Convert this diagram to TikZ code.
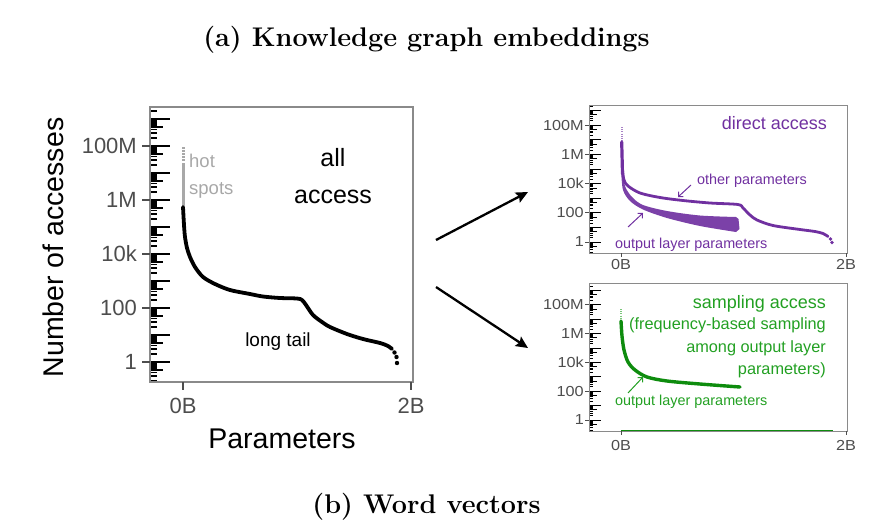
\documentclass[tikz,border=0pt]{standalone}
\usepackage{fontspec}
\newfontfamily\arial{Liberation Sans}
\usetikzlibrary{arrows.meta}
\definecolor{purp}{HTML}{7030A0}
\definecolor{grn}{HTML}{22A022}
\definecolor{grnd}{HTML}{0E8C0E}
\definecolor{tickgray}{HTML}{4D4D4D}
\definecolor{hotgray}{HTML}{A8A8A8}
\definecolor{boxgray}{HTML}{8A8A8A}
\tikzset{
  ttl/.style={font=\bfseries\fontsize{27}{31}\selectfont, inner sep=0pt},
  biglab/.style={font=\arial\fontsize{28.5}{32}\selectfont, inner sep=0pt},
  tlab/.style={font=\arial\fontsize{22}{24}\selectfont, text=tickgray, inner sep=0pt},
  slab/.style={font=\arial\fontsize{14.5}{16}\selectfont, text=tickgray, inner sep=0pt, xscale=1.12},
  ann/.style={font=\arial\fontsize{25}{28}\selectfont, inner sep=0pt},
  hotlab/.style={font=\arial\fontsize{18.5}{20}\selectfont, text=hotgray, inner sep=0pt},
  taillab/.style={font=\arial\fontsize{19}{21}\selectfont, inner sep=0pt},
  headlab/.style={font=\arial\fontsize{18}{20}\selectfont, inner sep=0pt},
  smalllab/.style={font=\arial\fontsize{14.4}{16}\selectfont, inner sep=0pt},
  noteline/.style={font=\arial\fontsize{16.3}{18}\selectfont, inner sep=0pt, text=grn},
  panel/.style={draw=boxgray, line width=1.1pt},
  rug/.style={draw=black, line width=1.4pt},
  axtick/.style={draw=tickgray, line width=1.1pt},
  bigarrow/.style={line width=2.3pt, -{Stealth[length=12pt,width=11pt,inset=2pt]}},
  thinarrow/.style={line width=1pt, -{Straight Barb[length=3.5pt,width=7pt]}},
  curve/.style={line cap=round, line join=round},
}
\begin{document}
\begin{tikzpicture}[x=1pt,y=-1pt]
\useasboundingbox (0,0) rectangle (880,528);

% titles
\node[ttl, anchor=base] (ta) at (426.5,46.5) {(a) Knowledge graph embeddings};
\node[ttl, anchor=base] (tb) at (426.5,513) {(b) Word vectors};

% ---------------- left plot ----------------
\begin{scope}
\clip (150,107) rectangle (413,382);
\foreach \k in {-1,...,9}{
  \foreach \m in {1,...,9}{
    \pgfmathsetmacro\yy{362-27*(\k+log10(\m))}
    \pgfmathsetmacro\rl{\m==1 ? 20 : (\m==5 ? 13 : 7)}
    \draw[rug] (150,\yy) -- ++(\rl,0);
  }}
\end{scope}
\draw[panel] (150,107) rectangle (413,382);
\foreach \v/\t in {8/100M,6/1M,4/10k,2/100,0/1}{
  \pgfmathsetmacro\yy{362-27*\v}
  \draw[axtick] (142,\yy) -- (150,\yy);
  \node[tlab, anchor=east] (L\v) at (137,\yy) {\t};
}
\draw[axtick] (183,382) -- (183,390);
\draw[axtick] (411,382) -- (411,390);
\node[tlab, anchor=north] (lx0) at (183,398) {0B};
\node[tlab, anchor=north] (lx2) at (411,398) {2B};
\node[biglab, anchor=base] (xlab) at (282,448) {Parameters};
\node[biglab, anchor=base, rotate=90] (ylab) at (63,247.5) {Number of accesses};

% hot spots
\draw[hotgray, line width=3pt, dash pattern=on 1.5pt off 1.5pt] (183,147) -- (183,162);
\draw[hotgray, line width=3pt] (183,163) -- (183,208);
% main curve
\draw[curve, line width=3.8pt] plot[smooth, tension=0.5] coordinates {
 (183,207) (184,225) (185,237) (187,248) (190,257) (195,267) (203,277)
 (215,284) (230,290) (250,294) (263,296.5) (280,298) (297,298.5) (302,300)
 (306,305) (313,315) (322,322) (330,327) (347,334) (363,339) (380,343)
 (388,346) (392,349)};
\fill (394.5,352.5) circle (2.2pt);
\fill (396.5,357) circle (2.2pt);
\fill (397,363) circle (2.2pt);

\node[hotlab, anchor=base west] (hot) at (189,167) {hot};
\node[hotlab, anchor=base west] (spots) at (189,194) {spots};
\node[ann, anchor=base] (all) at (333,166) {all};
\node[ann, anchor=base] (acc) at (333,203) {access};
\node[taillab, anchor=base] (tail) at (278,346) {long tail};

% big arrows
\coordinate (a1s) at (436,240);
\coordinate (a1e) at (528,192);
\coordinate (a2s) at (436,287);
\coordinate (a2e) at (528,348);
\draw[bigarrow] (a1s) -- (a1e);
\draw[bigarrow] (a2s) -- (a2e);

% ---------------- top right plot ----------------
\begin{scope}
\clip (589,105) rectangle (847,253);
\foreach \k in {-1,...,9}{
  \foreach \m in {1,...,9}{
    \pgfmathsetmacro\yy{242-14.6*(\k+log10(\m))}
    \pgfmathsetmacro\rl{\m==1 ? 12 : (\m==5 ? 8 : 4)}
    \draw[rug, line width=1pt] (589,\yy) -- ++(\rl,0);
  }}
\end{scope}
\draw[panel, line width=0.9pt] (589,105) rectangle (847,253);
\foreach \v/\t in {8/100M,6/1M,4/10k,2/100,0/1}{
  \pgfmathsetmacro\yy{242-14.6*\v}
  \draw[axtick, line width=0.9pt] (585,\yy) -- (589,\yy);
  \node[slab, anchor=east] (R\v) at (584,\yy) {\t};
}
\draw[axtick, line width=0.9pt] (621,253) -- (621,257);
\draw[axtick, line width=0.9pt] (846,253) -- (846,257);
\node[slab, anchor=north] (rx0) at (621,259.5) {0B};
\node[slab, anchor=north] (rx2) at (846,259.5) {2B};

\draw[purp!60, line width=2pt, dash pattern=on 1pt off 1.2pt] (621.7,127) -- (621.7,142);
\draw[purp, curve, line width=3.2pt] (621.7,142) -- (622.5,174);
% output layer band
\fill[purp!92, curve] plot[smooth, tension=0.5] coordinates {(623.5,170) (625,186) (632,197) (643,205) (667,211) (700,215.5) (736,217)}
  -- (738.5,219) -- (739.5,229) -- (736,232)
  -- plot[smooth, tension=0.5] coordinates {(736,232) (700,226) (667,218) (643,209.5) (630,201) (623,190) (621.2,172)} -- cycle;
% other parameters
\draw[purp, curve, line width=2.8pt] plot[smooth, tension=0.5] coordinates {
 (622.5,170) (624,180) (628,186) (640,193) (660,197.5) (683,200.5) (710,203) (738,204.5)
 (743,208) (750,215) (757,220) (773,225.5) (800,229.5) (815,231.5) (823,233.5) (828,236.5)};
\fill[purp] (830.5,239) circle (1.8pt);
\fill[purp] (832,242.5) circle (1.8pt);

\node[headlab, text=purp, anchor=base east] (direct) at (827,129) {direct access};
\node[smalllab, text=purp, anchor=base west] (other) at (697,184) {other parameters};
\node[smalllab, text=purp, anchor=base west] (outp) at (615,248) {output layer parameters};
\coordinate (o1s) at (691,185);
\coordinate (o1e) at (678,197);
\coordinate (o2s) at (628,227);
\coordinate (o2e) at (643,213);
\draw[thinarrow, purp] (o1s) -- (o1e);
\draw[thinarrow, purp] (o2s) -- (o2e);

% ---------------- bottom right plot ----------------
\begin{scope}
\clip (589,283) rectangle (847,431);
\foreach \k in {-1,...,9}{
  \foreach \m in {1,...,9}{
    \pgfmathsetmacro\yy{420-14.4*(\k+log10(\m))}
    \pgfmathsetmacro\rl{\m==1 ? 12 : (\m==5 ? 8 : 4)}
    \draw[rug, line width=1pt] (589,\yy) -- ++(\rl,0);
  }}
\end{scope}
\draw[panel, line width=0.9pt] (589,283) rectangle (847,431);
\foreach \v/\t in {8/100M,6/1M,4/10k,2/100,0/1}{
  \pgfmathsetmacro\yy{420-14.4*\v}
  \draw[axtick, line width=0.9pt] (585,\yy) -- (589,\yy);
  \node[slab, anchor=east] (S\v) at (584,\yy) {\t};
}
\draw[axtick, line width=0.9pt] (621,431) -- (621,435);
\draw[axtick, line width=0.9pt] (846,431) -- (846,435);
\node[slab, anchor=north] (sx0) at (621,440) {0B};
\node[slab, anchor=north] (sx2) at (846,440) {2B};

\draw[grnd, line width=1.6pt] (621,430.5) -- (833,430.5);
\draw[grn!60, line width=2pt, dash pattern=on 1pt off 1.2pt] (621,309) -- (621,322);
\draw[grnd, curve, line width=3.4pt] plot[smooth, tension=0.5] coordinates {
 (621,321) (622,336) (624,350) (628,362) (635,370) (647,377) (667,381) (700,384) (740,387)};

\node[headlab, text=grn, anchor=base east] (samp) at (826,308) {sampling access};
\node[noteline, anchor=base east] (n1) at (826,329) {(frequency-based sampling};
\node[noteline, anchor=base east] (n2) at (826,352) {among output layer};
\node[noteline, anchor=base east] (n3) at (826,374) {parameters)};
\node[smalllab, text=grn, anchor=base west] (outg) at (615,405) {output layer parameters};
\coordinate (g1s) at (628,393);
\coordinate (g1e) at (643,377);
\draw[thinarrow, grn] (g1s) -- (g1e);
\end{tikzpicture}
\end{document}
